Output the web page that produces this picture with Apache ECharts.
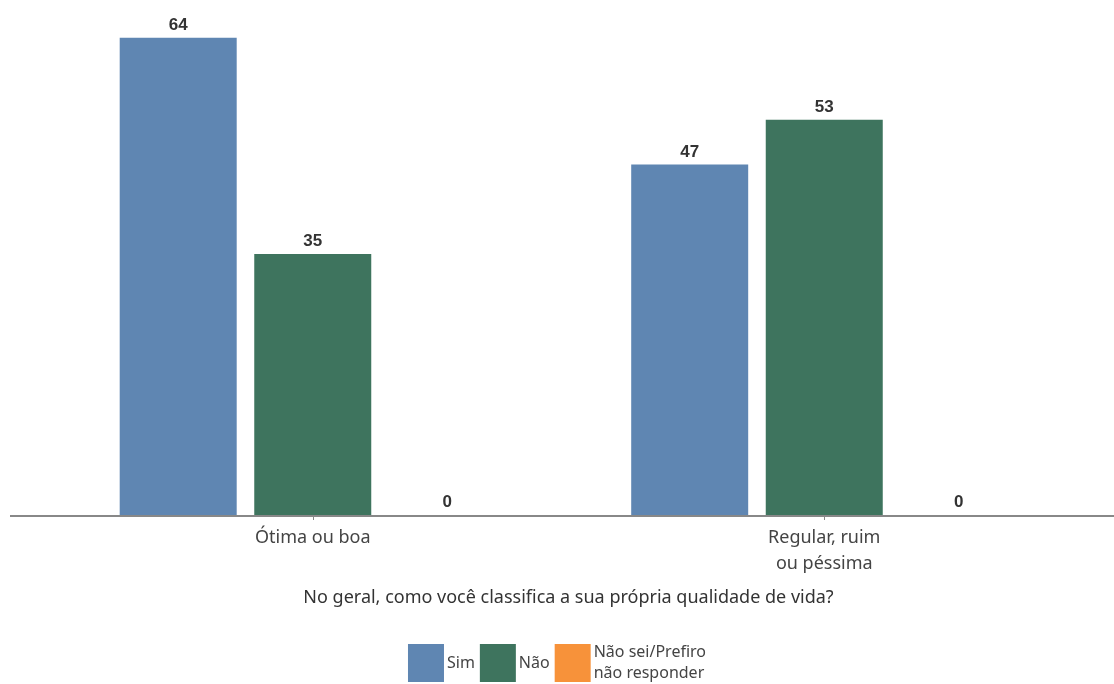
<!DOCTYPE html>
<html><head><meta charset="utf-8">
<script src="https://cdn.jsdelivr.net/npm/echarts@6/dist/echarts.min.js"></script>
<style>html,body{margin:0;padding:0;background:#fff}#c{width:1114px;height:684px}</style>
</head><body><div id="c"></div>
<script>
const categories = ['Ótima ou boa', 'Regular, ruim\nou péssima'];
const seriesNames = ['Sim', 'Não', 'Não sei/Prefiro\nnão responder'];
const simValues = [64, 47];
const naoValues = [35, 53];
const nsValues = [0, 0];
const axisTitle = 'No geral, como você classifica a sua própria qualidade de vida?';

const colors = ['#5f86b2', '#3e745e', '#f7923a'];
const labelStyle = {show: true, position: 'top', color: '#333', fontWeight: 'bold', fontSize: 17, fontFamily: 'Liberation Sans', distance: 4};
const chart = echarts.init(document.getElementById('c'));
const gridBottom = 169;
chart.setOption({
  animation: false,
  color: colors,
  grid: {left: 57, right: 34, top: 8, bottom: gridBottom},
  legend: {
    top: 637, left: 'center', itemWidth: 36, itemHeight: 38, itemGap: 5, icon: 'rect',
    textStyle: {fontFamily: 'Noto Sans', fontSize: 16, color: '#444', lineHeight: 21, padding: [0,0,0,-2]},
    data: seriesNames
  },
  xAxis: {
    type: 'category', data: categories,
    axisLine: {show: false},
    axisTick: {show: true, alignWithLabel: true, length: 5, lineStyle: {color: '#888'}},
    axisLabel: {fontFamily: 'Noto Sans', fontSize: 18, color: '#444', lineHeight: 26, margin: 10},
    name: axisTitle, nameLocation: 'middle', nameGap: 74,
    nameTextStyle: {fontFamily: 'Noto Sans', fontSize: 18, color: '#333'}
  },
  yAxis: {type: 'value', min: 0, max: 68, show: false, splitLine: {show: false}},
  graphic: [{type: 'line', shape: {x1: 10, y1: 684 - gridBottom + 1, x2: 1114, y2: 684 - gridBottom + 1}, style: {stroke: '#888', lineWidth: 2}, z: 10}],
  series: [
    {name: seriesNames[0], type: 'bar', data: simValues, barWidth: 117, barGap: '15%', label: labelStyle},
    {name: seriesNames[1], type: 'bar', data: naoValues, barWidth: 117, label: labelStyle},
    {name: seriesNames[2], type: 'bar', data: nsValues, barWidth: 117, label: labelStyle}
  ]
});
</script></body></html>
